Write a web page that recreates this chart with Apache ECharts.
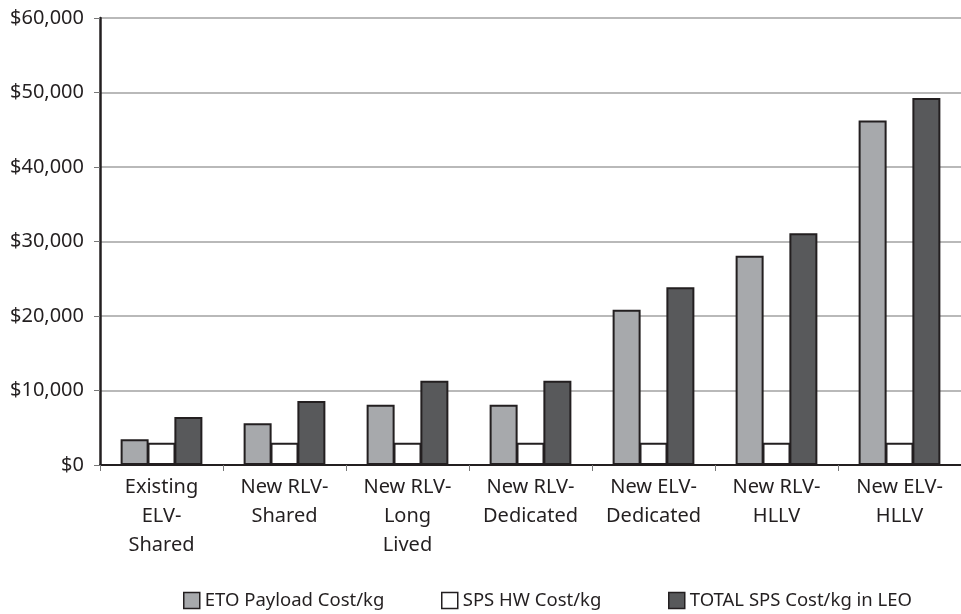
<!DOCTYPE html>
<html>
<head>
<meta charset="utf-8">
<title>SPS cost per kg</title>
<script src="https://cdn.jsdelivr.net/npm/echarts@6/dist/echarts.min.js"></script>
<style>
  html, body { margin: 0; padding: 0; background: #fff; }
  #chart { width: 961px; height: 614px; }
</style>
</head>
<body>
<div id="chart"></div>
<script>
  // data
  var categories = [
    'Existing\nELV-\nShared',
    'New RLV-\nShared',
    'New RLV-\nLong\nLived',
    'New RLV-\nDedicated',
    'New ELV-\nDedicated',
    'New RLV-\nHLLV',
    'New ELV-\nHLLV'
  ];
  var etoPayload = [3450, 5600, 8100, 8100, 20850, 28100, 46250];
  var spsHw = [3000, 3000, 3000, 3000, 3000, 3000, 3000];
  var totalSps = [6450, 8600, 11300, 11300, 23850, 31100, 49250];
  var seriesNames = ['ETO Payload Cost/kg', 'SPS HW Cost/kg', 'TOTAL SPS Cost/kg in LEO'];

  var font = 'Noto Sans';
  var ink = '#231f20';

  var chart = echarts.init(document.getElementById('chart'));

  function barSeries(name, data, fill) {
    return {
      name: name,
      type: 'bar',
      data: data,
      barWidth: 28,
      barGap: '-4%', // neighbouring bars share their border line
      itemStyle: { color: fill, borderColor: ink, borderWidth: 2 },
      emphasis: { disabled: true }
    };
  }

  // one legend block per entry so each sits where it does in the picture
  function legendAt(left, name) {
    return {
      left: left,
      top: 591,
      padding: 0,
      itemWidth: 16,
      itemHeight: 16,
      icon: 'rect',
      textStyle: { fontFamily: font, fontSize: 18.5, color: ink },
      itemStyle: { borderColor: ink, borderWidth: 1.5 },
      data: [name]
    };
  }

  var option = {
    animation: false,
    textStyle: { fontFamily: font },
    grid: { left: 100, top: 18, width: 868, height: 447, containLabel: false },
    legend: [
      legendAt(183, seriesNames[0]),
      legendAt(441, seriesNames[1]),
      legendAt(668, seriesNames[2])
    ],
    xAxis: {
      type: 'category',
      data: categories,
      axisLine: { lineStyle: { color: ink, width: 2 } },
      axisTick: { show: true, length: 6, lineStyle: { color: '#777', width: 1 } },
      axisLabel: {
        fontFamily: font,
        fontSize: 20,
        color: ink,
        lineHeight: 29,
        margin: 8,
        interval: 0
      }
    },
    yAxis: {
      type: 'value',
      min: 0,
      max: 60000,
      interval: 10000,
      axisLine: { show: true, lineStyle: { color: ink, width: 2.5 } },
      axisTick: { show: true, length: 6, lineStyle: { color: '#777', width: 1 } },
      splitLine: { lineStyle: { color: '#a2a2a2', width: 1.5 } },
      axisLabel: {
        fontFamily: font,
        fontSize: 20,
        color: ink,
        margin: 16,
        formatter: function (v) { return '$' + v.toLocaleString('en-US'); }
      }
    },
    series: [
      barSeries(seriesNames[0], etoPayload, '#a7a9ac'),
      barSeries(seriesNames[1], spsHw, '#ffffff'),
      barSeries(seriesNames[2], totalSps, '#58595b')
    ]
  };

  chart.setOption(option);
</script>
</body>
</html>
